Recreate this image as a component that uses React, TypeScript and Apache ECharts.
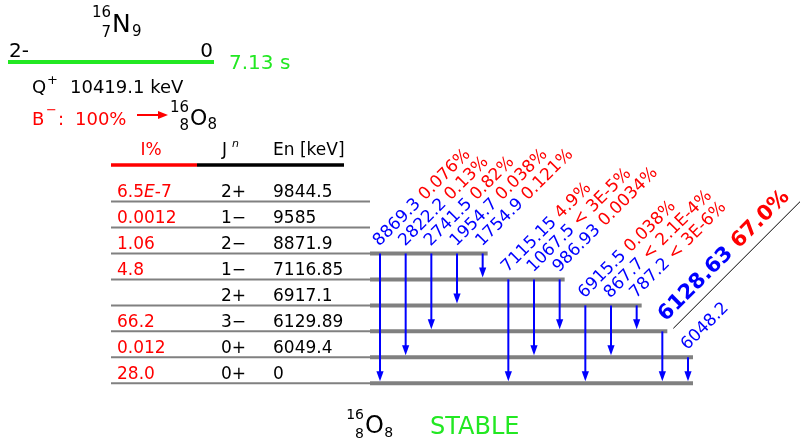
import React, { useEffect, useRef } from 'react';
import * as echarts from 'echarts';

// ---- Data: 16N beta- decay to levels of 16O ----
// Level index 0 = ground state (bottom row)
const levelEnergies = ['0', '6049.4', '6129.89', '6917.1', '7116.85', '8871.9', '9585', '9844.5'];
const levelSpins = ['0+', '0+', '3−', '2+', '1−', '2−', '1−', '2+'];
const levelFeedings = ['28.0', '0.012', '66.2', '', '4.8', '1.06', '0.0012', '6.5E-7'];

// Gamma transitions, in the left-to-right order of the arrows
const gammaEnergies = ['8869.3', '2822.2', '2741.5', '1954.7', '1754.9', '7115.15', '1067.5', '986.93', '6915.5', '867.7', '787.2', '6128.63', '6048.2'];
const gammaIntensities = ['0.076%', '0.13%', '0.82%', '0.038%', '0.121%', '4.9%', '< 3E-5%', '0.0034%', '0.038%', '< 2.1E-4%', '< 3E-6%', '67.0%', ''];
const gammaFromLevel = [5, 5, 5, 5, 5, 4, 4, 4, 3, 3, 3, 2, 1];
const gammaToLevel = [0, 1, 2, 3, 4, 0, 1, 2, 0, 1, 2, 0, 0];
const strongestGamma = 11;

// Header texts
const parentSpin = '2-';
const parentLevel = '0';
const halfLife = '7.13 s';
const qValue = '10419.1 keV';
const betaBranch = '100%';
const daughterState = 'STABLE';
const tableHeaders = ['I%', 'J', 'En [keV]'];

// ---- Layout / style constants ----
const FONT = '"DejaVu Sans", sans-serif';
const TABLE_LEFT = 111;
const LEVEL_X0 = 370;
const COL_FEED = 117;
const COL_SPIN = 221;
const COL_EN = 273;
const RED = '#ff0000';
const BLUE = '#0000ff';
const GREEN = '#22e822';
const GRAY = '#808080';

const levelMaxSlot = levelEnergies.map((_, i) => {
  let m = -1;
  gammaFromLevel.forEach((f, k) => {
    if (f === i || gammaToLevel[k] === i) m = Math.max(m, k);
  });
  return m;
});

function font(size: number, weight = 'normal', style = 'normal') {
  return `${style} ${weight} ${size}px ${FONT}`;
}

// text placed by its baseline
function txt(x: number, base: number, text: string, size: number, color = '#000', align = 'left', extra: any = {}) {
  return {
    type: 'text',
    x,
    y: base - 0.346 * size,
    silent: true,
    style: {
      text,
      font: font(size, extra.weight, extra.fstyle),
      fill: color,
      textAlign: align,
      textVerticalAlign: 'middle',
    },
  };
}

function line(x1: number, y1: number, x2: number, y2: number, color: string, w: number) {
  return { type: 'line', silent: true, shape: { x1, y1, x2, y2 }, style: { stroke: color, lineWidth: w } };
}

function nuclide(x: number, base: number, mass: string, z: string, sym: string, n: string, size: number, small: number, color = '#000') {
  const symW = size * 0.8;
  return [
    txt(x, base - size * 0.58, mass, small, color, 'right'),
    txt(x, base + small * 0.33, z, small, color, 'right'),
    txt(x + 1, base, sym, size, color, 'left'),
    txt(x + 1 + symW, base + small * 0.3, n, small, color, 'left'),
  ];
}

function feedingRich(s: string) {
  if (s.includes('E')) {
    const [a, b] = s.split('E');
    return `{r|${a}}{e|E}{r|${b}}`;
  }
  return `{r|${s}}`;
}

export default function App() {
  const ref = useRef<HTMLDivElement>(null);

  useEffect(() => {
    if (!ref.current) return;
    const chart = echarts.init(ref.current, undefined, { renderer: 'svg' });

    const graphics: any[] = [
      // parent
      ...nuclide(111, 32, '16', '7', 'N', '9', 25, 15),
      txt(9, 57, parentSpin, 20),
      txt(213, 57, parentLevel, 20, '#000', 'right'),
      line(8, 62, 214, 62, GREEN, 4),
      txt(229, 69, halfLife, 20, GREEN),
      txt(32, 93, 'Q', 18),
      txt(47, 84, '+', 13),
      txt(70, 93, qValue, 18),
      txt(32, 125, 'B', 18, RED),
      txt(46, 114, '−', 13, RED),
      txt(58, 125, ':', 18, RED),
      txt(75, 125, betaBranch, 18, RED),
      line(137, 115, 160, 115, RED, 2),
      { type: 'polygon', silent: true, shape: { points: [[158, 111], [168, 115], [158, 119]] }, style: { fill: RED } },
      ...nuclide(189, 125, '16', '8', 'O', '8', 22, 15),
      // table header
      txt(151, 155, tableHeaders[0], 17, RED, 'center'),
      txt(222, 155, tableHeaders[1], 17),
      txt(232, 147, 'n', 11, '#000', 'left', { fstyle: 'italic' }),
      txt(273, 155, tableHeaders[2], 17),
      line(TABLE_LEFT, 165, 197, 165, RED, 3.5),
      line(197, 165, 344, 165, '#000', 3.5),
      // daughter
      ...nuclide(364, 433, '16', '8', 'O', '8', 24, 14),
      txt(430, 434, daughterState, 24, GREEN),
    ];

    const option: any = {
      animation: false,
      grid: { left: 380, right: 112, top: 201.5, bottom: 57.7 },
      xAxis: { type: 'value', min: 0, max: 12, show: false },
      yAxis: { type: 'value', min: 0, max: 7, show: false },
      graphic: { elements: graphics },
      series: [
        {
          type: 'custom',
          name: 'levels',
          clip: false,
          silent: true,
          data: levelEnergies.map((_, i) => [0, i]),
          renderItem: (params: any, api: any) => {
            const idx = api.value(1);
            const y = api.coord([0, idx])[1];
            const children: any[] = [line(TABLE_LEFT, y, LEVEL_X0, y, GRAY, 2)];
            const ms = levelMaxSlot[idx];
            if (ms >= 0) {
              const xEnd = api.coord([ms, idx])[0] + 5;
              children.push(line(LEVEL_X0, y, xEnd, y, GRAY, 4));
            }
            const base = y - 4.5;
            if (levelFeedings[idx]) {
              children.push({
                type: 'text',
                x: COL_FEED,
                y: base - 0.346 * 17,
                style: {
                  text: feedingRich(levelFeedings[idx]),
                  textAlign: 'left',
                  textVerticalAlign: 'middle',
                  font: font(17),
                  fill: RED,
                  rich: {
                    r: { font: font(17), fill: RED },
                    e: { font: font(17, 'normal', 'italic'), fill: RED },
                  },
                },
              });
            }
            children.push(txt(COL_SPIN, base, levelSpins[idx], 17));
            children.push(txt(COL_EN, base, levelEnergies[idx], 17));
            return { type: 'group', children };
          },
        },
        {
          type: 'custom',
          name: 'gammas',
          clip: false,
          silent: true,
          data: gammaEnergies.map((_, k) => [k, gammaFromLevel[k], gammaToLevel[k]]),
          renderItem: (params: any, api: any) => {
            const k = api.value(0);
            const [x, yFrom] = api.coord([k, api.value(1)]);
            const yTo = api.coord([k, api.value(2)])[1];
            const tip = yTo - 2;
            const bold = k === strongestGamma;
            const children: any[] = [
              line(x, yFrom, x, tip - 8, BLUE, 2),
              { type: 'polygon', shape: { points: [[x - 3.6, tip - 10], [x + 3.6, tip - 10], [x, tip]] }, style: { fill: BLUE } },
            ];
            const fs = bold ? 21 : 17;
            const w = bold ? 'bold' : 'normal';
            const inten = gammaIntensities[k];
            const text = inten ? `{e|${gammaEnergies[k]}} {i|${inten}}` : `{e|${gammaEnergies[k]}}`;
            children.push({
              type: 'text',
              x: bold ? x + 6 : x + 1,
              y: bold ? yFrom - 7 : yFrom - 5,
              rotation: Math.PI / 4,
              style: {
                text,
                textAlign: 'left',
                textVerticalAlign: 'bottom',
                font: font(fs, w),
                fill: BLUE,
                rich: {
                  e: { font: font(fs, w), fill: BLUE },
                  i: { font: font(fs, w), fill: RED },
                },
              },
            });
            if (bold) {
              children.push(line(x + 11, yFrom - 3, x + 151, yFrom - 143, '#000', 1));
            }
            return { type: 'group', children };
          },
        },
      ],
    };

    chart.setOption(option);
    return () => chart.dispose();
  }, []);

  return <div ref={ref} style={{ position: 'fixed', left: 0, top: 0, width: 800, height: 441 }} />;
}
